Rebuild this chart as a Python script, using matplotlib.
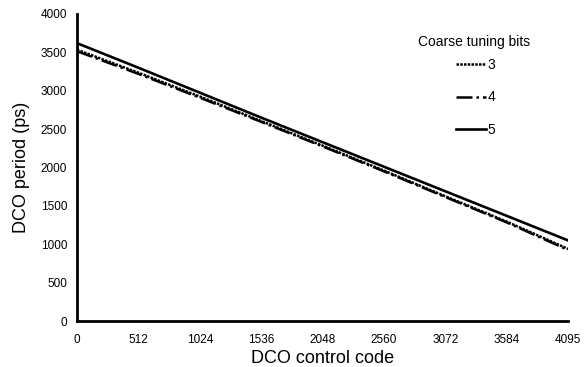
import matplotlib.pyplot as plt

plt.rcParams['font.family'] = ['Liberation Sans', 'DejaVu Sans']

# DCO control code vs period for each coarse tuning setting
codes = [0, 512, 1024, 1536, 2048, 2560, 3072, 3584, 4095]
period_3bit = [3535, 3235, 2925, 2605, 2285, 1960, 1625, 1295, 940]
period_4bit = [3515, 3220, 2910, 2595, 2275, 1950, 1615, 1285, 925]
period_5bit = [3620, 3300, 2975, 2650, 2330, 2010, 1690, 1370, 1050]
x_ticks = [0, 512, 1024, 1536, 2048, 2560, 3072, 3584, 4095]
y_ticks = [0, 500, 1000, 1500, 2000, 2500, 3000, 3500, 4000]

fig = plt.figure(figsize=(5.87, 3.67), dpi=100)
ax = fig.add_axes([0.131, 0.125, 0.837, 0.837])

ax.plot(codes, period_3bit, color='black', linestyle=(0, (1, 0.5)), linewidth=1.8, label='3')
ax.plot(codes, period_4bit, color='black', linestyle='-.', linewidth=1.8, label='4')
ax.plot(codes, period_5bit, color='black', linestyle='-', linewidth=1.9, label='5')

ax.set_xlim(0, 4095)
ax.set_ylim(0, 4000)
ax.set_xticks(x_ticks)
ax.set_yticks(y_ticks)
ax.tick_params(axis='y', length=0, labelsize=8.5, pad=7)
ax.tick_params(axis='x', length=0, labelsize=8.5, pad=9)
ax.set_xlabel('DCO control code', fontsize=13, labelpad=3)
ax.set_ylabel('DCO period (ps)', fontsize=13, labelpad=8)

for s in ['top', 'right']:
    ax.spines[s].set_visible(False)
for s in ['left', 'bottom']:
    ax.spines[s].set_linewidth(2)

# legend title drawn on its own so the entries can sit closer under it
fig.text(418 / 587, 1 - 42 / 367, 'Coarse tuning bits', fontsize=10, va='center', ha='left')
leg = fig.legend(loc='upper left', bbox_to_anchor=(0.755, 0.877),
                 frameon=False, fontsize=10, handlelength=2.2,
                 handletextpad=0.1, labelspacing=1.35)

fig.savefig('out.png', dpi=100)
